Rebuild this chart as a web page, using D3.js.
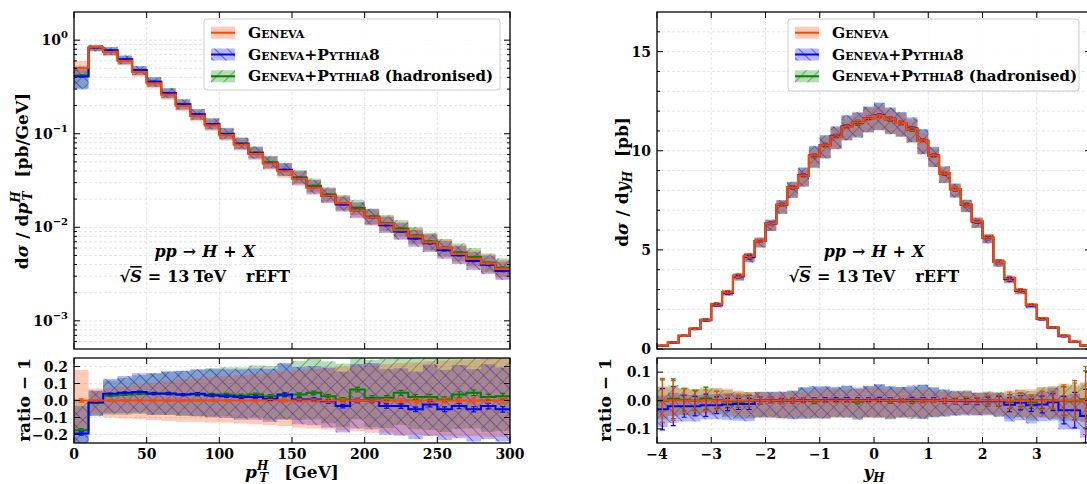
<!DOCTYPE html>
<html>
<head>
<meta charset="utf-8">
<title>Higgs pT and rapidity, GENEVA</title>
<script src="https://cdn.jsdelivr.net/npm/d3@7"></script>
<style>
  body { margin: 0; background: #fff; }
  text { font-family: "DejaVu Serif", serif; font-weight: bold; fill: #000; }
</style>
</head>
<body>
<svg id="chart" width="1087" height="484"></svg>
<script>
(function () {
    'use strict';

    // ---------- p_T^H spectrum [pb/GeV], 10 GeV bins ----------
    var ptEdges = [0, 10, 20, 30, 40, 50, 60, 70, 80, 90, 100, 110, 120, 130, 140, 150,
                   160, 170, 180, 190, 200, 210, 220, 230, 240, 250, 260, 270, 280, 290, 300];
    var ptGeneva = [0.507, 0.836, 0.75, 0.60, 0.457, 0.346, 0.262, 0.199, 0.155, 0.123,
                    0.0968, 0.0764, 0.0608, 0.0483, 0.0398, 0.0332, 0.0266, 0.0218, 0.0181, 0.0152,
                    0.0128, 0.0109, 0.0093, 0.0080, 0.0069, 0.0060, 0.0052, 0.0046, 0.0041, 0.0036];
    // showered / hadronised, as ratio - 1 to Geneva
    var ptPythiaRatio = [-0.194, -0.01, 0.039, 0.045, 0.05, 0.041, 0.041, 0.035, 0.039, 0.03,
                         0.025, 0.02, 0.02, 0.01, 0.035, 0.006, 0.006, -0.005, -0.033, 0.0,
                         0.0, -0.033, -0.033, -0.052, -0.023, -0.052, -0.033, -0.052, -0.033, -0.052];
    var ptHadronRatio = [-0.175, -0.014, 0.03, 0.035, 0.04, 0.04, 0.04, 0.035, 0.035, 0.035,
                         0.035, 0.03, 0.035, 0.025, 0.03, 0.035, 0.045, 0.025, 0.006, 0.064,
                         0.016, 0.016, 0.045, 0.021, 0.021, 0.006, 0.035, 0.045, 0.02, 0.025];
    // scale-variation bands (relative)
    var ptScaleUp = [0.18, 0.07, 0.075, 0.085, 0.095, 0.105, 0.115, 0.125, 0.13, 0.14,
                     0.145, 0.15, 0.155, 0.165, 0.17, 0.18, 0.185, 0.19, 0.2, 0.205,
                     0.21, 0.215, 0.22, 0.225, 0.23, 0.235, 0.24, 0.24, 0.245, 0.25];
    var ptScaleDown = [-0.2, -0.08, -0.1, -0.105, -0.11, -0.115, -0.12, -0.125, -0.125, -0.13,
                       -0.13, -0.135, -0.14, -0.145, -0.15, -0.16, -0.165, -0.17, -0.175, -0.18,
                       -0.19, -0.19, -0.2, -0.2, -0.205, -0.21, -0.21, -0.21, -0.215, -0.215];
    var ptShowerUp = [0.2, 0.07, 0.085, 0.095, 0.105, 0.115, 0.125, 0.135, 0.14, 0.15,
                      0.155, 0.16, 0.165, 0.175, 0.18, 0.19, 0.195, 0.2, 0.21, 0.215,
                      0.22, 0.225, 0.23, 0.235, 0.24, 0.245, 0.25, 0.25, 0.255, 0.26];
    var ptShowerDown = [-0.27, -0.08, -0.11, -0.115, -0.115, -0.12, -0.12, -0.12, -0.125, -0.125,
                        -0.125, -0.13, -0.13, -0.135, -0.14, -0.145, -0.15, -0.155, -0.16, -0.165,
                        -0.17, -0.175, -0.18, -0.185, -0.19, -0.19, -0.195, -0.2, -0.2, -0.2];
    // MC stat errors (relative)
    var ptStatGeneva = [0.01, 0.004, 0.004, 0.004, 0.005, 0.005, 0.005, 0.005, 0.006, 0.006,
                        0.006, 0.006, 0.007, 0.007, 0.008, 0.008, 0.008, 0.009, 0.009, 0.01,
                        0.01, 0.011, 0.011, 0.012, 0.012, 0.013, 0.013, 0.014, 0.014, 0.015];
    var ptStatShower = [0.012, 0.005, 0.005, 0.005, 0.005, 0.006, 0.006, 0.006, 0.007, 0.007,
                        0.007, 0.008, 0.008, 0.009, 0.009, 0.01, 0.01, 0.011, 0.011, 0.012,
                        0.012, 0.013, 0.014, 0.014, 0.015, 0.015, 0.016, 0.016, 0.017, 0.017];

    // ---------- rapidity y_H [pb], 0.2 bins ----------
    var yEdges = [-4, -3.8, -3.6, -3.4, -3.2, -3, -2.8, -2.6, -2.4, -2.2, -2, -1.8, -1.6, -1.4,
                  -1.2, -1, -0.8, -0.6, -0.4, -0.2, 0, 0.2, 0.4, 0.6, 0.8, 1, 1.2, 1.4, 1.6,
                  1.8, 2, 2.2, 2.4, 2.6, 2.8, 3, 3.2, 3.4, 3.6, 3.8, 4];
    var yGeneva = [0.17, 0.33, 0.67, 1.03, 1.47, 2.25, 2.87, 3.7, 4.7, 5.45,
                   6.33, 7.28, 8.15, 8.75, 9.75, 10.27, 10.72, 11.2, 11.43, 11.63,
                   11.75, 11.6, 11.4, 11.1, 10.5, 9.75, 8.87, 8.07, 7.28, 6.45,
                   5.62, 4.4, 3.57, 2.95, 2.23, 1.53, 1.08, 0.67, 0.37, 0.17];
    var yPythiaRatio = [-0.031, -0.02, -0.02, -0.02, -0.017, -0.017, -0.014, -0.012, -0.012, 0.0,
                        0.001, 0.0, -0.001, 0.002, 0.001, 0.002, 0.003, 0.002, 0.001, 0.002,
                        0.003, 0.001, 0.0, 0.003, 0.001, 0.001, -0.001, -0.002, -0.003, -0.003,
                        -0.003, -0.003, -0.015, -0.008, -0.017, -0.014, -0.006, -0.034, -0.034, -0.055];
    var yHadronRatio = [-0.002, 0.006, 0.003, 0.0, 0.007, 0.002, -0.003, -0.004, -0.002, 0.0,
                        0.0, -0.002, 0.001, 0.0, -0.003, 0.001, 0.0, 0.002, -0.004, 0.0,
                        0.001, -0.002, 0.0, -0.003, 0.0, 0.001, -0.002, 0.0, 0.001, -0.002,
                        0.002, 0.0, -0.004, 0.003, -0.006, 0.002, 0.0, -0.002, -0.003, 0.004];
    var yScaleUp = [0.05, 0.045, 0.04, 0.038, 0.04, 0.045, 0.042, 0.035, 0.03, 0.032,
                    0.025, 0.028, 0.03, 0.03, 0.035, 0.04, 0.04, 0.038, 0.042, 0.045,
                    0.045, 0.04, 0.042, 0.038, 0.04, 0.035, 0.03, 0.03, 0.032, 0.028,
                    0.03, 0.025, 0.035, 0.038, 0.04, 0.045, 0.05, 0.06, 0.05, 0.06];
    var yScaleDown = [-0.06, -0.055, -0.05, -0.052, -0.05, -0.045, -0.05, -0.055, -0.06, -0.058,
                      -0.06, -0.062, -0.06, -0.058, -0.06, -0.062, -0.06, -0.058, -0.06, -0.062,
                      -0.06, -0.062, -0.06, -0.058, -0.06, -0.055, -0.05, -0.05, -0.048, -0.05,
                      -0.05, -0.05, -0.055, -0.058, -0.06, -0.062, -0.06, -0.065, -0.06, -0.07];
    var yShowerUp = [0.05, 0.048, 0.042, 0.04, 0.038, 0.04, 0.04, 0.035, 0.032, 0.03,
                     0.03, 0.032, 0.035, 0.045, 0.05, 0.048, 0.045, 0.05, 0.045, 0.05,
                     0.055, 0.05, 0.048, 0.05, 0.055, 0.045, 0.04, 0.035, 0.035, 0.03,
                     0.03, 0.03, 0.032, 0.035, 0.04, 0.045, 0.05, 0.055, 0.06, 0.06];
    var yShowerDown = [-0.065, -0.06, -0.055, -0.055, -0.05, -0.05, -0.055, -0.06, -0.062, -0.06,
                       -0.06, -0.062, -0.065, -0.065, -0.062, -0.065, -0.06, -0.062, -0.065, -0.06,
                       -0.062, -0.065, -0.06, -0.062, -0.065, -0.06, -0.055, -0.052, -0.05, -0.05,
                       -0.05, -0.055, -0.06, -0.062, -0.065, -0.06, -0.065, -0.07, -0.07, -0.08];
    var yStatGeneva = [0.078, 0.07, 0.042, 0.037, 0.037, 0.032, 0.02, 0.023, 0.022, 0.012,
                       0.01, 0.01, 0.009, 0.009, 0.008, 0.008, 0.008, 0.008, 0.008, 0.008,
                       0.008, 0.008, 0.008, 0.008, 0.008, 0.008, 0.009, 0.01, 0.012, 0.012,
                       0.017, 0.02, 0.03, 0.027, 0.02, 0.032, 0.03, 0.055, 0.07, 0.12];
    var yStatShower = [0.075, 0.07, 0.04, 0.035, 0.04, 0.03, 0.022, 0.02, 0.02, 0.012,
                       0.01, 0.009, 0.009, 0.008, 0.008, 0.008, 0.007, 0.008, 0.008, 0.007,
                       0.008, 0.008, 0.007, 0.008, 0.008, 0.008, 0.009, 0.01, 0.011, 0.012,
                       0.015, 0.018, 0.025, 0.025, 0.022, 0.03, 0.03, 0.05, 0.065, 0.1];

    // ---------- ticks / labels ----------
    var ptTicks = [0, 50, 100, 150, 200, 250, 300];
    var yTicks = [-4, -3, -2, -1, 0, 1, 2, 3, 4];
    var yTickLabels = [-4, -3, -2, -1, 0, 1, 2, 3];
    var logMajor = [1e-3, 1e-2, 1e-1, 1];
    var logExponents = ['\u22123', '\u22122', '\u22121', '0'];
    var linTopMajor = [0, 5, 10, 15];
    var linTopMinor = [1, 2, 3, 4, 6, 7, 8, 9, 11, 12, 13, 14, 16];
    var ptRatioTicks = [-0.2, -0.1, 0, 0.1, 0.2];
    var yRatioTicks = [-0.1, 0, 0.1];
    var legendNames = ['Geneva', 'Geneva+Pythia8', 'Geneva+Pythia8'];
    var legendNotes = ['', '', '(hadronised)'];

    var svg = d3.select('#chart');
    var defs = svg.append('defs');

    var TOP = [12, 349], RAT = [358, 443];

    var GEN = {color: '#ff4500', hatch: null, width: 2.2};
    var PY = {color: '#0000ff', hatch: 'url(#hatchBlue)', width: 2};
    var HAD = {color: '#008000', hatch: 'url(#hatchGreen)', width: 2};

    function hatch(id, color, angle) {
        defs.append('pattern').attr('id', id)
            .attr('patternUnits', 'userSpaceOnUse')
            .attr('width', 9).attr('height', 9)
            .attr('patternTransform', 'rotate(' + angle + ')')
          .append('line')
            .attr('x1', 4.5).attr('x2', 4.5).attr('y1', 0).attr('y2', 9)
            .attr('stroke', color).attr('stroke-width', 0.9).attr('stroke-opacity', 0.55);
    }
    hatch('hatchBlue', '#0000ff', -45);
    hatch('hatchGreen', '#008000', 45);

    function makeBins(edges, central, ratio, up, dn, stat) {
        return central.map(function (c, i) {
            var r = ratio ? ratio[i] : 0;
            return {lo: edges[i], hi: edges[i + 1], v: c * (1 + r), r: r,
                    up: up[i], dn: dn[i], err: stat[i]};
        });
    }

    function clip(id, x0, x1, y0, y1) {
        defs.append('clipPath').attr('id', id).append('rect')
            .attr('x', x0).attr('y', y0).attr('width', x1 - x0).attr('height', y1 - y0);
    }

    function grid(xs, ys, xv, yv, x0, x1, y0, y1) {
        var g = svg.append('g').attr('stroke', '#dedede').attr('stroke-width', 0.8)
            .attr('stroke-dasharray', '3,2');
        g.selectAll(null).data(xv).enter().append('line')
            .attr('x1', xs).attr('x2', xs).attr('y1', y0).attr('y2', y1);
        g.selectAll(null).data(yv).enter().append('line')
            .attr('y1', ys).attr('y2', ys).attr('x1', x0).attr('x2', x1);
    }

    function ticks(xs, ys, x0, x1, y0, y1, xMaj, yMaj, yMin) {
        var g = svg.append('g').attr('stroke', '#000').attr('stroke-width', 1);
        var d = '';
        xMaj.forEach(function (t) {
            var x = xs(t);
            d += 'M' + x + ',' + y1 + 'v-6M' + x + ',' + y0 + 'v6';
        });
        yMaj.forEach(function (t) {
            var y = ys(t);
            d += 'M' + x0 + ',' + y + 'h6M' + x1 + ',' + y + 'h-6';
        });
        (yMin || []).forEach(function (t) {
            var y = ys(t);
            d += 'M' + x0 + ',' + y + 'h3M' + x1 + ',' + y + 'h-3';
        });
        g.append('path').attr('d', d);
        svg.append('rect').attr('x', x0).attr('y', y0)
            .attr('width', x1 - x0).attr('height', y1 - y0)
            .attr('fill', 'none').attr('stroke', '#000').attr('stroke-width', 1.3);
    }

    function drawSets(clipId, sets, xs, ys, mode) {
        var val = mode === 'top'
            ? function (b, f) { return b.v * (1 + f); }
            : function (b, f) { return (1 + b.r) * (1 + f) - 1; };
        var layer = svg.append('g').attr('clip-path', 'url(#' + clipId + ')');
        // bands
        sets.forEach(function (s) {
            var band = layer.append('g');
            var rect = function (sel) {
                sel.attr('x', function (b) { return xs(b.lo); })
                   .attr('width', function (b) { return xs(b.hi) - xs(b.lo); })
                   .attr('y', function (b) { return ys(val(b, b.up)); })
                   .attr('height', function (b) { return ys(val(b, b.dn)) - ys(val(b, b.up)); });
            };
            band.selectAll(null).data(s.bins).enter().append('rect').call(rect)
                .attr('fill', s.st.color).attr('fill-opacity', 0.28);
            if (s.st.hatch) {
                band.selectAll(null).data(s.bins).enter().append('rect').call(rect)
                    .attr('fill', s.st.hatch);
            }
        });
        // step lines
        var line = d3.line().x(function (p) { return xs(p[0]); }).y(function (p) { return ys(p[1]); });
        sets.forEach(function (s) {
            var pts = [];
            s.bins.forEach(function (b) {
                var c = val(b, 0);
                pts.push([b.lo, c], [b.hi, c]);
            });
            layer.append('path').datum(pts).attr('d', line)
                .attr('fill', 'none').attr('stroke', s.st.color).attr('stroke-width', s.st.width);
        });
        // MC error bars
        sets.forEach(function (s) {
            layer.selectAll(null).data(s.bins).enter().append('path')
                .attr('d', function (b) {
                    var xm = xs((b.lo + b.hi) / 2), ya = ys(val(b, b.err)), yb = ys(val(b, -b.err));
                    return 'M' + (xm - 2.5) + ',' + ya + 'H' + (xm + 2.5) +
                           'M' + xm + ',' + ya + 'V' + yb +
                           'M' + (xm - 2.5) + ',' + yb + 'H' + (xm + 2.5);
                })
                .attr('fill', 'none').attr('stroke', s.st.color).attr('stroke-width', 1.2);
        });
    }

    function rich(text, parts) {
        parts.forEach(function (p) {
            var t = text.append('tspan').text(p.t);
            if (p.it) t.style('font-style', 'italic');
            if (p.fs) t.attr('font-size', p.fs);
            if (p.dx) t.attr('dx', p.dx);
            if (p.dy) t.attr('dy', p.dy);
            if (p.over) t.style('text-decoration', 'overline');
        });
        return text;
    }

    function vlabel(x, y, size, parts) {
        var t = svg.append('text').attr('transform', 'translate(' + x + ',' + y + ') rotate(-90)')
            .attr('text-anchor', 'middle').attr('font-size', size);
        return rich(t, parts);
    }

    function hlabel(x, y, size, parts) {
        var t = svg.append('text').attr('x', x).attr('y', y)
            .attr('text-anchor', 'middle').attr('font-size', size);
        return rich(t, parts);
    }

    function legend(x, y, w, h) {
        var lg = svg.append('g').attr('transform', 'translate(' + x + ',' + y + ')');
        lg.append('rect').attr('width', w).attr('height', h).attr('rx', 3)
            .attr('fill', '#fff').attr('fill-opacity', 0.85).attr('stroke', '#cccccc');
        [GEN, PY, HAD].forEach(function (s, i) {
            var cy = 13.7 + i * 21.8;
            lg.append('rect').attr('x', 7).attr('y', cy - 6).attr('width', 24).attr('height', 12)
                .attr('fill', s.color).attr('fill-opacity', 0.28);
            if (s.hatch) {
                lg.append('rect').attr('x', 7).attr('y', cy - 6).attr('width', 24).attr('height', 12)
                    .attr('fill', s.hatch);
            }
            lg.append('line').attr('x1', 7).attr('x2', 31).attr('y1', cy).attr('y2', cy)
                .attr('stroke', s.color).attr('stroke-width', 2);
            var t = lg.append('text').attr('x', 44).attr('y', cy + 5).attr('font-size', 15.5);
            t.append('tspan').style('font-variant', 'small-caps').text(legendNames[i]);
            if (legendNotes[i]) t.append('tspan').attr('dx', 5).attr('font-size', 15).text(legendNotes[i]);
        });
    }

    function annotation(cx) {
        hlabel(cx, 257, 16, [
            {t: 'pp', it: true}, {t: '\u2192', dx: 6}, {t: 'H', it: true, dx: 6},
            {t: '+', dx: 6}, {t: 'X', it: true, dx: 6}]);
        hlabel(cx, 282, 16, [
            {t: '\u221a'}, {t: 'S', it: true, over: true}, {t: '=', dx: 6}, {t: '13', dx: 6},
            {t: 'TeV', dx: 4}, {t: 'rEFT', dx: 20}]);
    }

    // ================= left: p_T^H =================
    var lx0 = 74, lx1 = 510;
    var lxs = d3.scaleLinear().domain([0, 300]).range([lx0, lx1]);
    var lyTop = d3.scaleLog().domain([5e-4, 2]).range([TOP[1], TOP[0]]);
    var lyRat = d3.scaleLinear().domain([-0.25, 0.25]).range([RAT[1], RAT[0]]);

    var ptSets = [
        {st: HAD, bins: makeBins(ptEdges, ptGeneva, ptHadronRatio, ptShowerUp, ptShowerDown, ptStatShower)},
        {st: PY, bins: makeBins(ptEdges, ptGeneva, ptPythiaRatio, ptShowerUp, ptShowerDown, ptStatShower)},
        {st: GEN, bins: makeBins(ptEdges, ptGeneva, null, ptScaleUp, ptScaleDown, ptStatGeneva)}
    ];

    var logMinor = [];
    [1e-4, 1e-3, 1e-2, 1e-1, 1].forEach(function (p) {
        [2, 3, 4, 5, 6, 7, 8, 9].forEach(function (k) {
            var v = k * p;
            if (v > 5e-4 && v < 2) logMinor.push(v);
        });
    });

    clip('clipLT', lx0, lx1, TOP[0], TOP[1]);
    clip('clipLR', lx0, lx1, RAT[0], RAT[1]);
    grid(lxs, lyTop, ptTicks, logMajor.concat(logMinor), lx0, lx1, TOP[0], TOP[1]);
    grid(lxs, lyRat, ptTicks, ptRatioTicks, lx0, lx1, RAT[0], RAT[1]);
    drawSets('clipLT', ptSets, lxs, lyTop, 'top');
    drawSets('clipLR', ptSets, lxs, lyRat, 'ratio');
    ticks(lxs, lyTop, lx0, lx1, TOP[0], TOP[1], ptTicks, logMajor, logMinor);
    ticks(lxs, lyRat, lx0, lx1, RAT[0], RAT[1], ptTicks, ptRatioTicks, []);

    logMajor.forEach(function (v, i) {
        var t = svg.append('text').attr('x', lx0 - 6).attr('y', lyTop(v) + 5)
            .attr('text-anchor', 'end').attr('font-size', 14);
        rich(t, [{t: '10'}, {t: logExponents[i], fs: 10, dy: -7}]);
    });
    svg.append('g').selectAll(null).data(ptRatioTicks).enter().append('text')
        .attr('x', lx0 - 6).attr('y', function (d) { return lyRat(d) + 5; })
        .attr('text-anchor', 'end').attr('font-size', 14)
        .text(function (d) { return d3.format('.1f')(d).replace('-', '\u2212'); });
    svg.append('g').selectAll(null).data(ptTicks).enter().append('text')
        .attr('x', lxs).attr('y', 459).attr('text-anchor', 'middle').attr('font-size', 14)
        .text(function (d) { return d; });

    vlabel(28, 181, 17, [
        {t: 'd'}, {t: '\u03c3', it: true}, {t: '/', dx: 6}, {t: 'd', dx: 6}, {t: 'p', it: true},
        {t: 'H', it: true, fs: 12, dy: -8}, {t: 'T', it: true, fs: 12, dx: -9, dy: 12},
        {t: '[pb/GeV]', dx: 14, dy: -4}]);
    vlabel(30, 400, 17, [{t: 'ratio'}, {t: '\u2212', dx: 6}, {t: '1', dx: 6}]);
    hlabel(292, 478, 17, [
        {t: 'p', it: true}, {t: 'H', it: true, fs: 12, dy: -8},
        {t: 'T', it: true, fs: 12, dx: -9, dy: 12}, {t: '[GeV]', dx: 16, dy: -4}]);
    annotation(lxs(90));
    legend(204, 19, 296, 71);

    // ================= right: y_H =================
    var rx0 = 657, rx1 = 1091;
    var rxs = d3.scaleLinear().domain([-4, 4]).range([rx0, rx1]);
    var ryTop = d3.scaleLinear().domain([0, 17]).range([TOP[1], TOP[0]]);
    var ryRat = d3.scaleLinear().domain([-0.15, 0.15]).range([RAT[1], RAT[0]]);

    var ySets = [
        {st: HAD, bins: makeBins(yEdges, yGeneva, yHadronRatio, yShowerUp, yShowerDown, yStatShower)},
        {st: PY, bins: makeBins(yEdges, yGeneva, yPythiaRatio, yShowerUp, yShowerDown, yStatShower)},
        {st: GEN, bins: makeBins(yEdges, yGeneva, null, yScaleUp, yScaleDown, yStatGeneva)}
    ];

    clip('clipRT', rx0, rx1, TOP[0], TOP[1]);
    clip('clipRR', rx0, rx1, RAT[0], RAT[1]);
    grid(rxs, ryTop, yTicks, linTopMajor.concat(linTopMinor), rx0, rx1, TOP[0], TOP[1]);
    grid(rxs, ryRat, yTicks, yRatioTicks, rx0, rx1, RAT[0], RAT[1]);
    drawSets('clipRT', ySets, rxs, ryTop, 'top');
    drawSets('clipRR', ySets, rxs, ryRat, 'ratio');
    ticks(rxs, ryTop, rx0, rx1, TOP[0], TOP[1], yTicks, linTopMajor, linTopMinor);
    ticks(rxs, ryRat, rx0, rx1, RAT[0], RAT[1], yTicks, yRatioTicks, []);

    svg.append('g').selectAll(null).data(linTopMajor).enter().append('text')
        .attr('x', rx0 - 6).attr('y', function (d) { return ryTop(d) + 5; })
        .attr('text-anchor', 'end').attr('font-size', 14).text(function (d) { return d; });
    svg.append('g').selectAll(null).data(yRatioTicks).enter().append('text')
        .attr('x', rx0 - 6).attr('y', function (d) { return ryRat(d) + 5; })
        .attr('text-anchor', 'end').attr('font-size', 14)
        .text(function (d) { return d3.format('.1f')(d).replace('-', '\u2212'); });
    svg.append('g').selectAll(null).data(yTickLabels).enter().append('text')
        .attr('x', rxs).attr('y', 459).attr('text-anchor', 'middle').attr('font-size', 14)
        .text(function (d) { return String(d).replace('-', '\u2212'); });

    vlabel(628, 182, 17, [
        {t: 'd'}, {t: '\u03c3', it: true}, {t: '/', dx: 6}, {t: 'd', dx: 6}, {t: 'y', it: true},
        {t: 'H', it: true, fs: 12, dy: 4}, {t: '[pb]', dx: 14, dy: -4}]);
    vlabel(611, 400, 17, [{t: 'ratio'}, {t: '\u2212', dx: 6}, {t: '1', dx: 6}]);
    hlabel(874, 478, 17, [{t: 'y', it: true}, {t: 'H', it: true, fs: 12, dy: 4}]);
    annotation(rxs(0));
    legend(788, 19, 291, 72);
}());
</script>
</body>
</html>
